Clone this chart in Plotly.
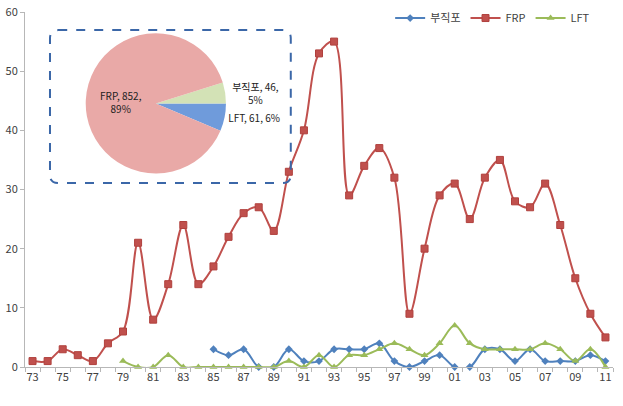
import plotly.graph_objects as go

years = list(range(1973, 2012))
year_labels = ["73", "75", "77", "79", "81", "83", "85", "87", "89", "91", "93", "95",
               "97", "99", "01", "03", "05", "07", "09", "11"]
label_years = list(range(1973, 2012, 2))

# FRP 1973-2011
frp = [1, 1, 3, 2, 1, 4, 6, 21, 8, 14, 24, 14, 17, 22, 26, 27, 23, 33, 40, 53,
       55, 29, 34, 37, 32, 9, 20, 29, 31, 25, 32, 35, 28, 27, 31, 24, 15, 9, 5]
# 부직포 (non-woven) 1985-2011
nonwoven_years = list(range(1985, 2012))
nonwoven = [3, 2, 3, 0, 0, 3, 1, 1, 3, 3, 3, 4, 1, 0, 1, 2, 0, 0, 3, 3, 1, 3, 1, 1, 1, 2, 1]
# LFT 1979-2011
lft_years = list(range(1979, 2012))
lft = [1, 0, 0, 2, 0, 0, 0, 0, 0, 0, 0, 1, 0, 2, 0, 2, 2, 3, 4, 3, 2, 4, 7, 4, 3,
       3, 3, 3, 4, 3, 1, 3, 0]

pie_labels = ["LFT", "부직포", "FRP"]
pie_values = [61, 46, 852]
pie_colors = ["#6F9BDB", "#D3E2B6", "#E9A9A7"]

BLUE = "#4F81BD"
RED = "#C0504D"
GREEN = "#9BBB59"
FONT = "Liberation Sans Narrow, Noto Sans CJK KR, sans-serif"

fig = go.Figure()

fig.add_trace(go.Scatter(
    x=nonwoven_years, y=nonwoven, name="부직포", mode="lines+markers",
    line=dict(color=BLUE, width=2, shape="spline", smoothing=1.0),
    marker=dict(symbol="diamond", size=6, color=BLUE),
    cliponaxis=False))
fig.add_trace(go.Scatter(
    x=years, y=frp, name="FRP", mode="lines+markers",
    line=dict(color=RED, width=2, shape="spline", smoothing=1.0),
    marker=dict(symbol="square", size=7, color=RED, line=dict(color="#B0403D", width=1)),
    cliponaxis=False))
fig.add_trace(go.Scatter(
    x=lft_years, y=lft, name="LFT", mode="lines+markers",
    line=dict(color=GREEN, width=2, shape="spline", smoothing=1.0),
    marker=dict(symbol="triangle-up", size=7, color=GREEN),
    cliponaxis=False))

fig.add_trace(go.Pie(
    labels=pie_labels, values=pie_values, sort=False, direction="counterclockwise",
    rotation=90, marker=dict(colors=pie_colors, line=dict(width=0)),
    texttemplate=["%{label}, %{value}, %{percent:.0%}",
                  "%{label}, %{value},<br>%{percent:.0%}",
                  "%{label}, %{value},<br>%{percent:.0%}"],
    textposition=["outside", "outside", "inside"],
    insidetextorientation="horizontal",
    textfont=dict(size=10, color="#222222", family=FONT),
    domain=dict(x=[0.02, 0.425], y=[0.545, 0.94]),
    showlegend=False, hoverinfo="skip"))

# dashed rounded inset frame (paper coords)
x0, x1, y0, y1 = 0.0425, 0.452, 0.518, 0.949
rx, ry = 0.014, 0.023
path = (f"M {x0+rx},{y1} L {x1-rx},{y1} Q {x1},{y1} {x1},{y1-ry} "
        f"L {x1},{y0+ry} Q {x1},{y0} {x1-rx},{y0} L {x0+rx},{y0} "
        f"Q {x0},{y0} {x0},{y0+ry} L {x0},{y1-ry} Q {x0},{y1} {x0+rx},{y1} Z")
fig.add_shape(type="path", path=path, xref="paper", yref="paper",
              line=dict(color="#3B67A8", width=2, dash="dash"), layer="above")

fig.update_layout(
    width=623, height=406,
    margin=dict(l=25, r=10, t=12, b=39, autoexpand=False),
    paper_bgcolor="white", plot_bgcolor="white",
    font=dict(family=FONT, size=11, color="#404040"),
    showlegend=True,
    legend=dict(orientation="h", x=0.621, y=0.983, xanchor="left", yanchor="middle",
                font=dict(size=11, color="#404040"), bgcolor="rgba(0,0,0,0)",
                itemwidth=30, traceorder="normal"),
    xaxis=dict(range=[1972.5, 2011.5], tickmode="array", tickvals=label_years,
               ticktext=year_labels, ticks="", showgrid=False, zeroline=False,
               showline=True, linecolor="#B7B7B7", linewidth=1, automargin=False,
               minor=dict(ticks="outside", tick0=1972.5, dtick=1, ticklen=4,
                          tickcolor="#B7B7B7", showgrid=False),
               tickfont=dict(size=11, color="#404040")),
    yaxis=dict(range=[0, 60], tickvals=[0, 10, 20, 30, 40, 50, 60], ticks="outside",
               ticklen=4, tickcolor="#B7B7B7", showgrid=False, zeroline=False,
               showline=True, linecolor="#B7B7B7", linewidth=1, automargin=False,
               tickfont=dict(size=11, color="#404040")),
)

fig.write_html("out.html", config={"displayModeBar": False},
               post_script="document.body.style.margin='0';document.body.style.overflow='hidden';")
